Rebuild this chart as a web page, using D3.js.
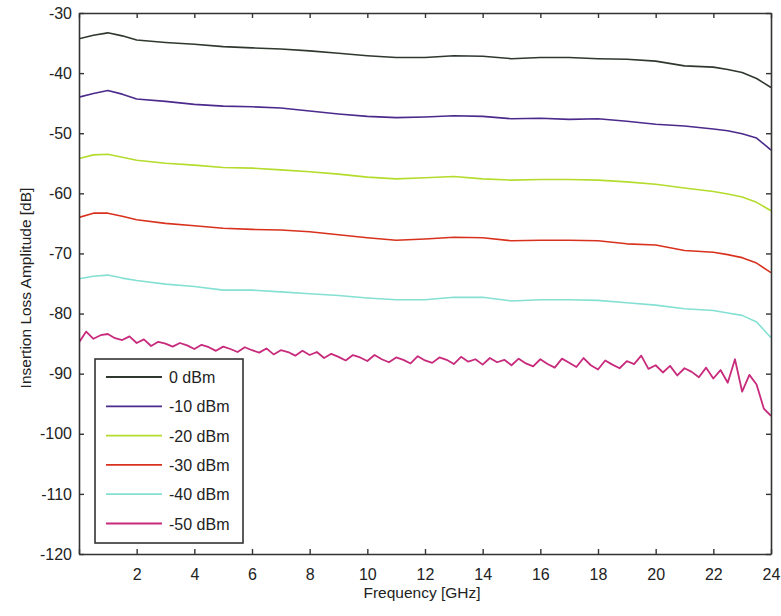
<!DOCTYPE html>
<html>
<head>
<meta charset="utf-8">
<script src="https://cdn.jsdelivr.net/npm/d3@7"></script>
<style>
  body { margin: 0; background: #fff; }
  text { font-family: "Liberation Sans", Arial, sans-serif; fill: #222; }
</style>
</head>
<body>
<div id="chart"></div>
<script>
// sampled frequencies (GHz) for the smooth traces
var freqs = [0, 0.5, 1, 1.5, 2, 3, 4, 5, 6, 7, 8, 9, 10, 11, 12, 13, 14, 15, 16, 17, 18, 19, 20, 21, 22, 22.5, 23, 23.5, 24];

var s0 = [-34.3, -33.7, -33.3, -33.8, -34.5, -34.9, -35.2, -35.6, -35.8, -36.0, -36.3, -36.7, -37.1, -37.4, -37.4, -37.1, -37.2, -37.6, -37.4, -37.4, -37.6, -37.7, -38.0, -38.8, -39.0, -39.4, -39.9, -40.9, -42.4];
var s10 = [-44.0, -43.4, -42.9, -43.5, -44.3, -44.7, -45.2, -45.5, -45.6, -45.8, -46.3, -46.8, -47.2, -47.4, -47.3, -47.1, -47.2, -47.6, -47.5, -47.7, -47.6, -48.0, -48.5, -48.8, -49.3, -49.6, -50.1, -50.8, -52.8];
var s20 = [-54.2, -53.6, -53.5, -54.0, -54.5, -55.0, -55.3, -55.7, -55.8, -56.1, -56.4, -56.8, -57.3, -57.6, -57.4, -57.2, -57.6, -57.8, -57.7, -57.7, -57.8, -58.1, -58.5, -59.1, -59.7, -60.1, -60.6, -61.5, -62.9];
var s30 = [-64.0, -63.3, -63.3, -63.8, -64.4, -65.0, -65.4, -65.8, -66.0, -66.1, -66.4, -66.9, -67.4, -67.8, -67.6, -67.3, -67.4, -67.9, -67.8, -67.8, -67.9, -68.4, -68.6, -69.5, -69.8, -70.2, -70.7, -71.6, -73.2];
var s40 = [-74.2, -73.8, -73.6, -74.1, -74.5, -75.1, -75.5, -76.1, -76.1, -76.4, -76.7, -77.0, -77.4, -77.7, -77.7, -77.3, -77.3, -77.9, -77.7, -77.7, -77.8, -78.2, -78.6, -79.2, -79.5, -79.9, -80.3, -81.4, -84.0];

// -50 dBm trace is noisy, read every 0.25 GHz
var step50 = 0.25;
var s50 = [-84.8, -83.0, -84.2, -83.6, -83.4, -84.1, -84.4, -83.8,
  -84.9, -84.3, -85.4, -84.7, -85.0, -85.5, -84.9, -85.3,
  -85.9, -85.2, -85.6, -86.2, -85.5, -85.9, -86.4, -85.6,
  -86.1, -86.5, -85.8, -86.8, -86.1, -86.4, -87.0, -86.2,
  -86.9, -86.4, -87.4, -86.7, -87.2, -87.8, -86.9, -87.3,
  -87.9, -86.9, -87.6, -88.1, -87.3, -87.7, -88.3, -87.1,
  -87.8, -88.2, -87.3, -87.7, -88.4, -87.2, -88.0, -87.6,
  -88.5, -87.4, -88.1, -87.7, -88.6, -87.5, -88.3, -88.8,
  -87.6, -88.4, -89.0, -87.5, -88.2, -88.9, -87.4, -88.6,
  -89.3, -87.8, -88.5, -89.1, -87.9, -88.4, -87.0, -89.2,
  -88.6, -89.8, -88.7, -90.3, -89.1, -89.7, -90.6, -89.0,
  -90.8, -89.4, -91.5, -87.6, -93.0, -90.2, -91.8, -95.8,
  -97.0];

var seriesNames = ["0 dBm", "-10 dBm", "-20 dBm", "-30 dBm", "-40 dBm", "-50 dBm"];
var seriesColors = ["#2f382f", "#4b2a8c", "#b4dc2c", "#d8321e", "#84e0d2", "#c82a7c"];

var xTicks = [0, 2, 4, 6, 8, 10, 12, 14, 16, 18, 20, 22, 24];
var yTicks = [-120, -110, -100, -90, -80, -70, -60, -50, -40, -30];

var width = 781, height = 616;
var margin = { left: 79, right: 10, top: 13, bottom: 62 };
var plotW = width - margin.left - margin.right;
var plotH = height - margin.top - margin.bottom;

var svg = d3.select("#chart").append("svg")
  .attr("width", width)
  .attr("height", height);

var x = d3.scaleLinear().domain([0, 24]).range([0, plotW]);
var y = d3.scaleLinear().domain([-120, -30]).range([plotH, 0]);

var g = svg.append("g").attr("transform", "translate(" + margin.left + "," + margin.top + ")");

// build point lists
var smooth = [s0, s10, s20, s30, s40];
var data = smooth.map(function (vals) {
  return vals.map(function (v, i) { return [freqs[i], v]; });
});
data.push(s50.map(function (v, i) { return [i * step50, v]; }));

var line = d3.line()
  .x(function (d) { return x(d[0]); })
  .y(function (d) { return y(d[1]); });

g.append("defs").append("clipPath").attr("id", "clip")
  .append("rect").attr("width", plotW).attr("height", plotH);

g.append("g").attr("clip-path", "url(#clip)")
  .selectAll("path")
  .data(data)
  .enter()
    .append("path")
    .attr("d", line)
    .attr("fill", "none")
    .attr("stroke", function (d, i) { return seriesColors[i]; })
    .attr("stroke-width", function (d, i) { return i == 5 ? 1.8 : 1.6; })
    .attr("stroke-linejoin", "round");

// axes, matlab style: inward ticks on all four sides
var axisColor = "#333";
var plain = function (d) { return String(d); };
var xBottom = d3.axisBottom(x).tickValues(xTicks).tickSizeInner(-5).tickSizeOuter(0)
  .tickPadding(15).tickFormat(function (d) { return d == 0 ? "" : String(d); });
var xTop = d3.axisTop(x).tickValues(xTicks).tickSizeInner(-5).tickSizeOuter(0).tickFormat("");
var yLeft = d3.axisLeft(y).tickValues(yTicks).tickSizeInner(-5).tickSizeOuter(0)
  .tickPadding(7).tickFormat(plain);
var yRight = d3.axisRight(y).tickValues(yTicks).tickSizeInner(-5).tickSizeOuter(0).tickFormat("");

function styleAxis(sel) {
  sel.selectAll("path").attr("stroke", axisColor).attr("stroke-width", 1.6);
  sel.selectAll("line").attr("stroke", axisColor).attr("stroke-width", 1.4);
  sel.selectAll("text").attr("font-size", 16).attr("fill", "#222")
    .style("font-family", "'Liberation Sans', Arial, sans-serif");
}

g.append("g").attr("transform", "translate(0," + plotH + ")").call(xBottom).call(styleAxis);
g.append("g").call(xTop).call(styleAxis);
g.append("g").call(yLeft).call(styleAxis);
g.append("g").attr("transform", "translate(" + plotW + ",0)").call(yRight).call(styleAxis);

// axis titles
svg.append("text")
  .attr("x", 422)
  .attr("y", 598)
  .attr("text-anchor", "middle")
  .attr("font-size", 15.5)
  .text("Frequency [GHz]");

svg.append("text")
  .attr("transform", "translate(31,288) rotate(-90)")
  .attr("text-anchor", "middle")
  .attr("font-size", 15.5)
  .text("Insertion Loss Amplitude [dB]");

// legend
var legend = svg.append("g").attr("transform", "translate(95,359)");
legend.append("rect")
  .attr("width", 148).attr("height", 184)
  .attr("fill", "#fff").attr("stroke", axisColor).attr("stroke-width", 1.6);

var items = legend.selectAll("g.item")
  .data(seriesNames)
  .enter()
    .append("g")
    .attr("class", "item")
    .attr("transform", function (d, i) { return "translate(0," + (18 + i * 29.3) + ")"; });

items.append("line")
  .attr("x1", 11).attr("x2", 67)
  .attr("stroke", function (d, i) { return seriesColors[i]; })
  .attr("stroke-width", 1.8);

items.append("text")
  .attr("x", 74).attr("y", 6)
  .attr("font-size", 16)
  .text(function (d) { return d; });
</script>
</body>
</html>
